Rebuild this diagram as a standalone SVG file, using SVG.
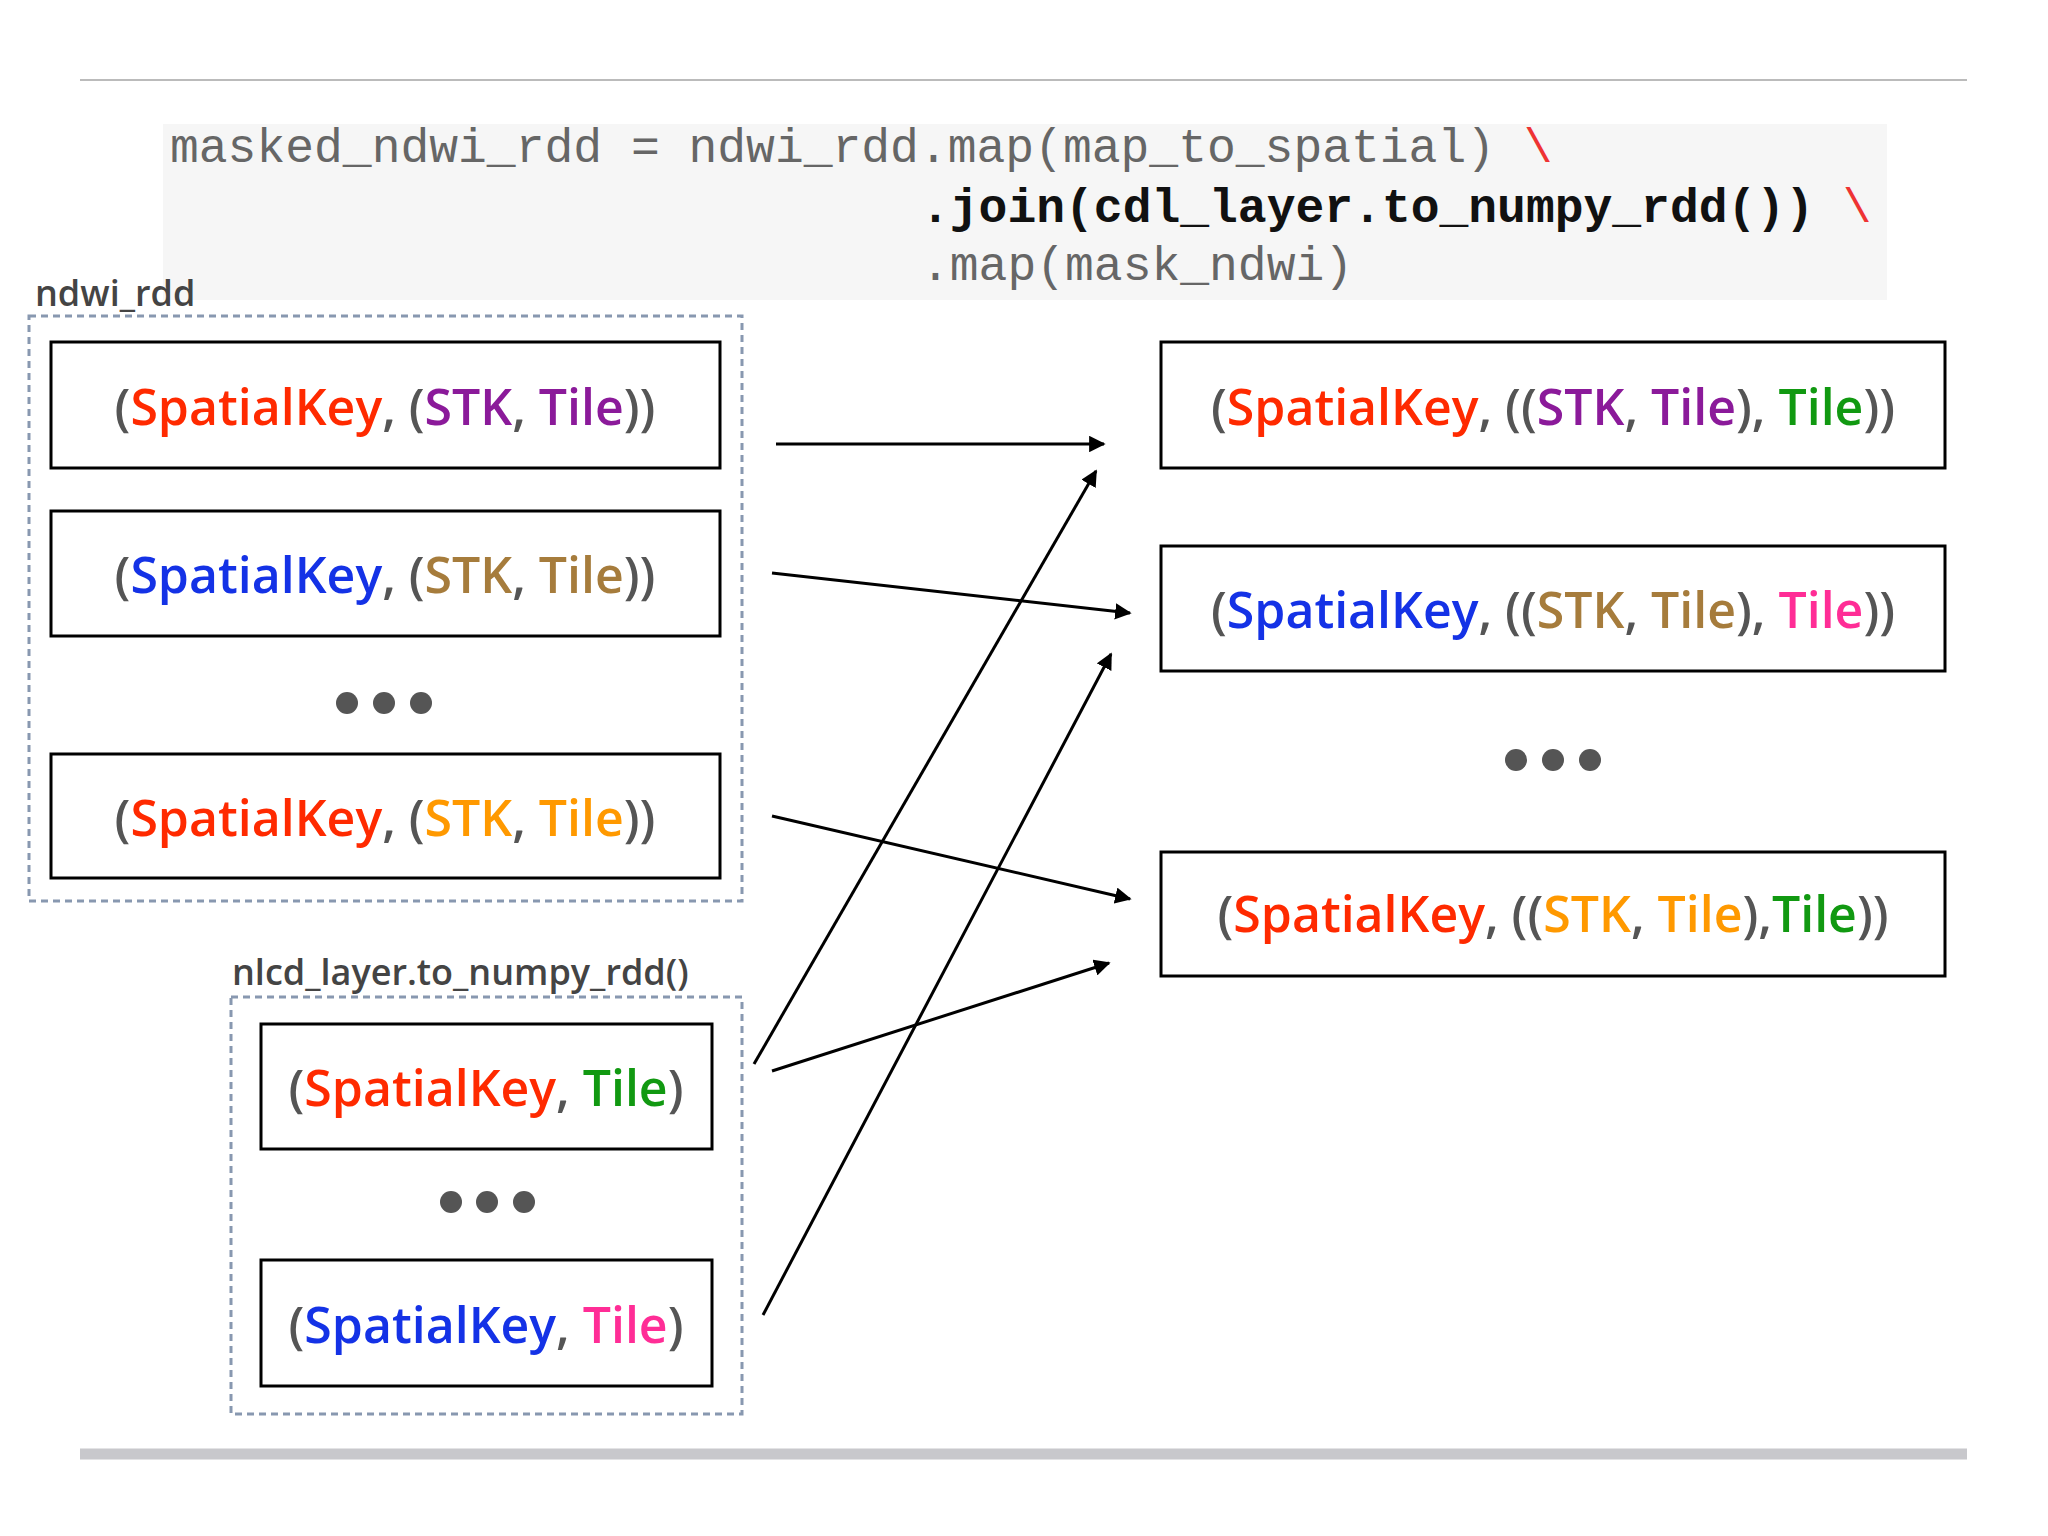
<svg xmlns="http://www.w3.org/2000/svg" width="2048" height="1536" viewBox="0 0 2048 1536">
<defs>
<marker id="a" viewBox="0 0 10 10" refX="9" refY="5" markerWidth="5.5" markerHeight="5.5" orient="auto"><path d="M0,0 L10,5 L0,10 z" fill="#000"/></marker>
<style>
.code{font-family:"Liberation Mono","DejaVu Sans Mono",monospace;font-size:48px}
.lbl{font-family:"Open Sans",sans-serif;font-size:36px;font-weight:600;fill:#444}
.grp{fill:none;stroke:#8898b0;stroke-width:3;stroke-dasharray:7 5}
.box{fill:#fff;stroke:#000;stroke-width:3}
.t{font-family:"Open Sans",sans-serif;font-size:50px;font-weight:600;text-anchor:middle;fill:#555}
.r{fill:#ff2a00}.p{fill:#8b1a9a}.b{fill:#1432e6}.br{fill:#a67c3c}.o{fill:#ff9900}.g{fill:#119911}.k{fill:#ff2d96}
.dot{fill:#555}
.con line{stroke:#000;stroke-width:3;marker-end:url(#a)}
</style>
</defs>
<rect width="2048" height="1536" fill="#fff"/>
<line x1="80" y1="80" x2="1967" y2="80" stroke="#bbb" stroke-width="2"/>
<line x1="80" y1="1454" x2="1967" y2="1454" stroke="#c8c8cc" stroke-width="11"/>
<rect x="163" y="124" width="1724" height="176" fill="#f6f6f6"/>
<text class="code" x="170" y="162" fill="#666">masked_ndwi_rdd = ndwi_rdd.map(map_to_spatial) <tspan fill="#e33">\</tspan></text>
<text class="code" x="921" y="222" fill="#111" font-weight="bold">.join(cdl_layer.to_numpy_rdd()) <tspan fill="#e33" font-weight="normal">\</tspan></text>
<text class="code" x="921" y="280" fill="#666">.map(mask_ndwi)</text>

<g id="ndwi_rdd">
<text class="lbl" x="35" y="306">ndwi_rdd</text>
<rect class="grp" x="29" y="316" width="713" height="585"/>
</g>
<g id="l1"><rect class="box" x="51" y="342" width="669" height="126"/><text class="t" x="385" y="425">(<tspan class="r">SpatialKey</tspan>, (<tspan class="p">STK</tspan>, <tspan class="p">Tile</tspan>))</text></g>
<g id="l2"><rect class="box" x="51" y="511" width="669" height="125"/><text class="t" x="385" y="593">(<tspan class="b">SpatialKey</tspan>, (<tspan class="br">STK</tspan>, <tspan class="br">Tile</tspan>))</text></g>
<g id="ldots"><circle class="dot" cx="347" cy="703" r="11"/><circle class="dot" cx="384" cy="703" r="11"/><circle class="dot" cx="421" cy="703" r="11"/></g>
<g id="l3"><rect class="box" x="51" y="754" width="669" height="124"/><text class="t" x="385" y="836">(<tspan class="r">SpatialKey</tspan>, (<tspan class="o">STK</tspan>, <tspan class="o">Tile</tspan>))</text></g>

<g id="nlcd">
<text class="lbl" x="232" y="985">nlcd_layer.to_numpy_rdd()</text>
<rect class="grp" x="231" y="997" width="511" height="417"/>
</g>
<g id="n1"><rect class="box" x="261" y="1024" width="451" height="125"/><text class="t" x="486" y="1106">(<tspan class="r">SpatialKey</tspan>, <tspan class="g">Tile</tspan>)</text></g>
<g id="ndots"><circle class="dot" cx="451" cy="1202" r="11"/><circle class="dot" cx="487" cy="1202" r="11"/><circle class="dot" cx="524" cy="1202" r="11"/></g>
<g id="n2"><rect class="box" x="261" y="1260" width="451" height="126"/><text class="t" x="486" y="1343">(<tspan class="b">SpatialKey</tspan>, <tspan class="k">Tile</tspan>)</text></g>

<g id="r1"><rect class="box" x="1161" y="342" width="784" height="126"/><text class="t" x="1553" y="425">(<tspan class="r">SpatialKey</tspan>, ((<tspan class="p">STK</tspan>, <tspan class="p">Tile</tspan>), <tspan class="g">Tile</tspan>))</text></g>
<g id="r2"><rect class="box" x="1161" y="546" width="784" height="125"/><text class="t" x="1553" y="628">(<tspan class="b">SpatialKey</tspan>, ((<tspan class="br">STK</tspan>, <tspan class="br">Tile</tspan>), <tspan class="k">Tile</tspan>))</text></g>
<g id="rdots"><circle class="dot" cx="1516" cy="760" r="11"/><circle class="dot" cx="1553" cy="760" r="11"/><circle class="dot" cx="1590" cy="760" r="11"/></g>
<g id="r3"><rect class="box" x="1161" y="852" width="784" height="124"/><text class="t" x="1553" y="932">(<tspan class="r">SpatialKey</tspan>, ((<tspan class="o">STK</tspan>, <tspan class="o">Tile</tspan>),<tspan class="g">Tile</tspan>))</text></g>

<g class="con" id="connectors">
<line x1="776" y1="444" x2="1104" y2="444"/>
<line x1="772" y1="573" x2="1130" y2="613"/>
<line x1="772" y1="816" x2="1130" y2="899"/>
<line x1="754" y1="1064" x2="1096" y2="471"/>
<line x1="772" y1="1071" x2="1109" y2="963"/>
<line x1="763" y1="1315" x2="1111" y2="654"/>
</g>
</svg>
